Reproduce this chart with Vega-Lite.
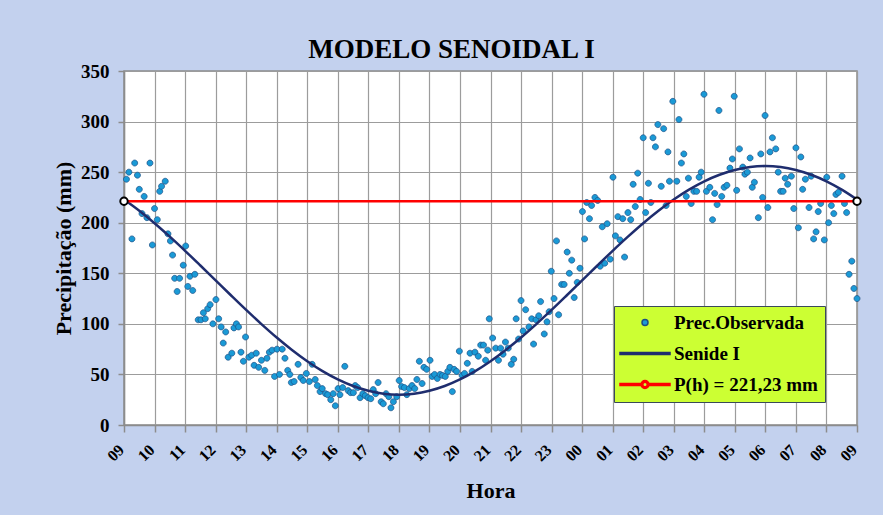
{
"$schema":"https://vega.github.io/schema/vega-lite/v6.json",
"width":733,"height":354,
"autosize":{"type":"none"},
"padding":{"left":124,"top":71,"right":26,"bottom":90},
"background":"#c3d1ee",
"title":{"text":"MODELO SENOIDAL I","font":"Liberation Serif","fontSize":27,"fontWeight":"bold","color":"#000000","anchor":"middle","frame":"group","dx":-39,"offset":-23,"baseline":"alphabetic"},
"config":{
 "view":{"fill":"#ffffff","stroke":"#8c8c8c","strokeWidth":1.5},
 "axis":{"labelFont":"Liberation Serif","labelFontWeight":"bold","labelColor":"#000000","titleFont":"Liberation Serif","titleFontWeight":"bold","titleColor":"#000000","gridColor":"#9c9c9c","gridWidth":1.2,"gridOpacity":1,"domainColor":"#8c8c8c","domainWidth":1.5,"tickColor":"#8c8c8c","tickWidth":1.5,"labelFlush":false,"labelOverlap":false}
},
"datasets":{
"obs":[
{"h":0.08,"v":243},{"h":0.16,"v":250},{"h":0.35,"v":259},{"h":0.26,"v":184},{"h":0.44,"v":247},{"h":0.5,"v":233},{"h":0.59,"v":209},{"h":0.66,"v":226},{"h":0.75,"v":205},{"h":0.85,"v":259},{"h":0.93,"v":178},{"h":1.0,"v":214},{"h":1.09,"v":203},{"h":1.17,"v":231},{"h":1.23,"v":236},{"h":1.35,"v":241},{"h":1.44,"v":189},{"h":1.52,"v":182},{"h":1.59,"v":168},{"h":1.66,"v":145},{"h":1.74,"v":132},{"h":1.82,"v":145},{"h":1.94,"v":158},{"h":2.02,"v":177},{"h":2.09,"v":137},{"h":2.16,"v":147},{"h":2.25,"v":133},{"h":2.32,"v":149},{"h":2.43,"v":104},{"h":2.52,"v":104},{"h":2.6,"v":111},{"h":2.66,"v":105},{"h":2.74,"v":115},{"h":2.82,"v":119},{"h":2.91,"v":100},{"h":3.01,"v":124},{"h":3.1,"v":105},{"h":3.18,"v":97},{"h":3.25,"v":81},{"h":3.33,"v":92},{"h":3.41,"v":67},{"h":3.53,"v":71},{"h":3.6,"v":96},{"h":3.68,"v":100},{"h":3.75,"v":97},{"h":3.83,"v":72},{"h":3.91,"v":63},{"h":3.98,"v":87},{"h":4.09,"v":67},{"h":4.18,"v":69},{"h":4.26,"v":59},{"h":4.33,"v":71},{"h":4.41,"v":57},{"h":4.5,"v":64},{"h":4.61,"v":54},{"h":4.68,"v":66},{"h":4.76,"v":72},{"h":4.85,"v":74},{"h":4.93,"v":48},{"h":5.01,"v":75},{"h":5.09,"v":50},{"h":5.18,"v":75},{"h":5.27,"v":66},{"h":5.36,"v":54},{"h":5.43,"v":50},{"h":5.48,"v":42},{"h":5.57,"v":43},{"h":5.7,"v":60},{"h":5.79,"v":47},{"h":5.87,"v":44},{"h":5.97,"v":51},
{"h":6.07,"v":43},{"h":6.16,"v":60},{"h":6.26,"v":45},{"h":6.33,"v":39},{"h":6.42,"v":33},{"h":6.49,"v":36},{"h":6.6,"v":31},{"h":6.67,"v":30},{"h":6.77,"v":25},{"h":6.85,"v":31},{"h":6.92,"v":19},{"h":7.01,"v":36},{"h":7.07,"v":30},{"h":7.16,"v":37},{"h":7.23,"v":58},{"h":7.34,"v":34},{"h":7.42,"v":32},{"h":7.51,"v":32},{"h":7.57,"v":39},{"h":7.65,"v":37},{"h":7.73,"v":27},{"h":7.82,"v":31},{"h":7.9,"v":29},{"h":7.99,"v":27},{"h":8.08,"v":26},{"h":8.16,"v":35},{"h":8.24,"v":31},{"h":8.32,"v":42},{"h":8.42,"v":23},{"h":8.49,"v":21},{"h":8.58,"v":31},{"h":8.67,"v":28},{"h":8.74,"v":17},{"h":8.82,"v":23},{"h":8.93,"v":28},{"h":9.01,"v":44},{"h":9.09,"v":38},{"h":9.18,"v":37},{"h":9.26,"v":30},{"h":9.34,"v":36},{"h":9.43,"v":39},{"h":9.52,"v":36},{"h":9.59,"v":45},{"h":9.67,"v":63},{"h":9.76,"v":41},{"h":9.82,"v":57},{"h":9.91,"v":55},{"h":10.02,"v":64},{"h":10.09,"v":48},{"h":10.17,"v":50},{"h":10.26,"v":46},{"h":10.35,"v":50},{"h":10.43,"v":49},{"h":10.52,"v":48},{"h":10.6,"v":53},{"h":10.67,"v":57},{"h":10.75,"v":33},{"h":10.81,"v":55},{"h":10.89,"v":53},{"h":10.98,"v":73},{"h":11.07,"v":49},{"h":11.15,"v":51},{"h":11.24,"v":61},{"h":11.33,"v":71},{"h":11.4,"v":53},{"h":11.49,"v":72},{"h":11.6,"v":68},{"h":11.68,"v":79},{"h":11.77,"v":79},{"h":11.84,"v":64},{"h":11.91,"v":74},{"h":11.96,"v":105},
{"h":12.07,"v":86},{"h":12.17,"v":76},{"h":12.26,"v":64},{"h":12.33,"v":76},{"h":12.41,"v":70},{"h":12.49,"v":82},{"h":12.58,"v":76},{"h":12.68,"v":60},{"h":12.76,"v":65},{"h":12.84,"v":105},{"h":12.92,"v":85},{"h":13.0,"v":123},{"h":13.07,"v":93},{"h":13.15,"v":114},{"h":13.26,"v":97},{"h":13.35,"v":105},{"h":13.41,"v":80},{"h":13.49,"v":104},{"h":13.58,"v":108},{"h":13.64,"v":122},{"h":13.76,"v":90},{"h":13.85,"v":102},{"h":13.92,"v":112},{"h":13.99,"v":152},{"h":14.08,"v":125},{"h":14.16,"v":182},{"h":14.23,"v":109},{"h":14.33,"v":139},{"h":14.41,"v":139},{"h":14.51,"v":171},{"h":14.58,"v":150},{"h":14.66,"v":163},{"h":14.74,"v":126},{"h":14.84,"v":141},{"h":14.93,"v":155},{"h":15.01,"v":211},{"h":15.08,"v":184},{"h":15.15,"v":220},{"h":15.24,"v":204},{"h":15.31,"v":217},{"h":15.42,"v":225},{"h":15.51,"v":222},{"h":15.59,"v":157},{"h":15.66,"v":196},{"h":15.74,"v":160},{"h":15.82,"v":199},{"h":15.92,"v":164},{"h":16.01,"v":245},{"h":16.09,"v":187},{"h":16.17,"v":206},{"h":16.24,"v":183},{"h":16.33,"v":204},{"h":16.39,"v":166},{"h":16.5,"v":210},{"h":16.59,"v":203},{"h":16.67,"v":238},{"h":16.74,"v":216},{"h":16.82,"v":249},{"h":16.9,"v":223},{"h":17.0,"v":284},{"h":17.08,"v":210},{"h":17.17,"v":239},{"h":17.25,"v":220},{"h":17.32,"v":284},{"h":17.4,"v":275},{"h":17.48,"v":297},{"h":17.59,"v":236},{"h":17.67,"v":293},{"h":17.75,"v":217},{"h":17.81,"v":270},{"h":17.86,"v":241},
{"h":17.97,"v":320},{"h":18.1,"v":241},{"h":18.17,"v":302},{"h":18.25,"v":259},{"h":18.33,"v":268},{"h":18.41,"v":226},{"h":18.48,"v":244},{"h":18.57,"v":219},{"h":18.66,"v":231},{"h":18.75,"v":231},{"h":18.83,"v":245},{"h":18.9,"v":250},{"h":18.99,"v":327},{"h":19.07,"v":231},{"h":19.18,"v":235},{"h":19.27,"v":203},{"h":19.34,"v":229},{"h":19.42,"v":218},{"h":19.48,"v":311},{"h":19.57,"v":226},{"h":19.65,"v":235},{"h":19.74,"v":237},{"h":19.84,"v":254},{"h":19.92,"v":263},{"h":19.98,"v":325},{"h":20.06,"v":232},{"h":20.15,"v":273},{"h":20.26,"v":255},{"h":20.33,"v":248},{"h":20.41,"v":250},{"h":20.5,"v":264},{"h":20.57,"v":235},{"h":20.64,"v":240},{"h":20.77,"v":205},{"h":20.85,"v":268},{"h":20.91,"v":225},{"h":20.99,"v":306},{"h":21.08,"v":215},{"h":21.15,"v":270},{"h":21.23,"v":284},{"h":21.34,"v":273},{"h":21.42,"v":250},{"h":21.5,"v":231},{"h":21.58,"v":231},{"h":21.65,"v":244},{"h":21.73,"v":238},{"h":21.85,"v":246},{"h":21.93,"v":214},{"h":22.0,"v":274},{"h":22.08,"v":195},{"h":22.16,"v":265},{"h":22.22,"v":233},{"h":22.31,"v":243},{"h":22.43,"v":215},{"h":22.5,"v":246},{"h":22.58,"v":184},{"h":22.66,"v":191},{"h":22.73,"v":211},{"h":22.81,"v":219},{"h":22.93,"v":183},{"h":23.01,"v":245},{"h":23.07,"v":200},{"h":23.16,"v":217},{"h":23.24,"v":209},{"h":23.31,"v":228},{"h":23.39,"v":230},{"h":23.51,"v":246},{"h":23.59,"v":219},{"h":23.66,"v":210},{"h":23.74,"v":149},{"h":23.83,"v":162},{"h":23.9,"v":135},{"h":24.0,"v":125}
],
"curve":[
{"h":0,"v":222.9},{"h":0.5,"v":211.8},{"h":1,"v":199.5},{"h":1.5,"v":186.2},{"h":2,"v":172.2},{"h":2.5,"v":157.7},{"h":3,"v":143},{"h":3.5,"v":128.3},{"h":4,"v":113.8},{"h":4.5,"v":99.8},{"h":5,"v":86.5},{"h":5.5,"v":74.2},{"h":6,"v":63.1},{"h":6.5,"v":53.3},{"h":7,"v":45.1},{"h":7.5,"v":38.6},{"h":8,"v":33.9},{"h":8.5,"v":31.0},{"h":9,"v":30},{"h":9.5,"v":31.0},{"h":10,"v":33.9},{"h":10.5,"v":38.6},{"h":11,"v":45.1},{"h":11.5,"v":53.3},{"h":12,"v":63.1},{"h":12.5,"v":74.2},{"h":13,"v":86.5},{"h":13.5,"v":99.8},{"h":14,"v":113.8},{"h":14.5,"v":128.3},{"h":15,"v":143},{"h":15.5,"v":157.7},{"h":16,"v":172.2},{"h":16.5,"v":186.2},{"h":17,"v":199.5},{"h":17.5,"v":211.8},{"h":18,"v":222.9},{"h":18.5,"v":232.7},{"h":19,"v":240.9},{"h":19.5,"v":247.4},{"h":20,"v":252.1},{"h":20.5,"v":255.0},{"h":21,"v":256},{"h":21.5,"v":255.0},{"h":22,"v":252.1},{"h":22.5,"v":247.4},{"h":23,"v":240.9},{"h":23.5,"v":232.7},{"h":24,"v":222.9}
],
"media":[{"h":0,"v":221.23},{"h":24,"v":221.23}]
},
"encoding":{
 "x":{"field":"h","type":"quantitative","scale":{"domain":[0,24],"nice":false,"zero":false},
  "axis":{"values":[0,1,2,3,4,5,6,7,8,9,10,11,12,13,14,15,16,17,18,19,20,21,22,23,24],"labelExpr":"pad(toString((datum.value+9)%24), 2, '0', 'left')","labelAngle":-45,"labelAlign":"right","labelBaseline":"middle","labelFontSize":16,"labelPadding":15,"labelOffset":-3,"tickSize":7,"title":"Hora","titleFontSize":22,"titlePadding":17,"grid":true}},
 "y":{"field":"v","type":"quantitative","scale":{"domain":[0,350],"nice":false},
  "axis":{"values":[0,50,100,150,200,250,300,350],"labelFontSize":19,"labelPadding":9,"tickSize":6,"title":"Precipitação (mm)","titleFontSize":22,"titlePadding":5,"grid":true}}
},
"layer":[
 {"data":{"name":"obs"},"mark":{"type":"point","filled":true,"size":100,"strokeWidth":0.7,"opacity":1},
  "encoding":{
   "fill":{"datum":"Prec.Observada","type":"nominal",
    "scale":{"domain":["Prec.Observada","Senide I","P(h) = 221,23 mm"],"range":["#1a9ad6","#1f2d6e","#ff0000"]},
    "legend":{"title":null,"orient":"none","legendX":490,"legendY":235,"fillColor":"#ccff33","strokeColor":"#3a4a5a","padding":7,"labelFont":"Liberation Serif","labelFontWeight":"bold","labelFontSize":19,"labelColor":"#000000","labelLimit":300,"symbolSize":100,"symbolOffset":14.5,"labelOffset":19.5,"rowPadding":11}},
   "stroke":{"datum":"Prec.Observada","type":"nominal",
    "scale":{"domain":["Prec.Observada","Senide I","P(h) = 221,23 mm"],"range":["#1b4f85","#1f2d6e","#ff0000"]},
    "legend":{"title":null,"orient":"none","legendX":490,"legendY":235,"fillColor":"#ccff33","strokeColor":"#3a4a5a","padding":7,"labelFont":"Liberation Serif","labelFontWeight":"bold","labelFontSize":19,"labelColor":"#000000","labelLimit":300,"symbolSize":100,"symbolOffset":14.5,"labelOffset":19.5,"rowPadding":11}},
   "shape":{"datum":"Prec.Observada","type":"nominal",
    "scale":{"domain":["Prec.Observada","Senide I","P(h) = 221,23 mm"],"range":["M-0.6,0A0.6,0.6,0,1,0,0.6,0A0.6,0.6,0,1,0,-0.6,0Z","M-5,-0.2L5,-0.2L5,0.2L-5,0.2Z","M-5,-0.2L-0.8,-0.2L-0.8,0.2L-5,0.2Z M0.8,-0.2L5,-0.2L5,0.2L0.8,0.2Z M-0.8,0A0.8,0.8,0,1,0,0.8,0A0.8,0.8,0,1,0,-0.8,0Z M-0.45,0A0.45,0.45,0,1,1,0.45,0A0.45,0.45,0,1,1,-0.45,0Z"]},
    "legend":{"title":null,"orient":"none","legendX":490,"legendY":235,"fillColor":"#ccff33","strokeColor":"#3a4a5a","padding":7,"labelFont":"Liberation Serif","labelFontWeight":"bold","labelFontSize":19,"labelColor":"#000000","labelLimit":300,"symbolSize":100,"symbolOffset":14.5,"labelOffset":19.5,"rowPadding":11}}
  }},
 {"data":{"name":"curve"},"mark":{"type":"line","color":"#1f2d6e","strokeWidth":2.5,"interpolate":"monotone"},"encoding":{}},
 {"data":{"name":"media"},"mark":{"type":"line","color":"#ff0000","strokeWidth":2.5,"point":{"filled":true,"fill":"#ffffff","stroke":"#000000","strokeWidth":2,"size":55,"opacity":1}},"encoding":{}}
]
}
